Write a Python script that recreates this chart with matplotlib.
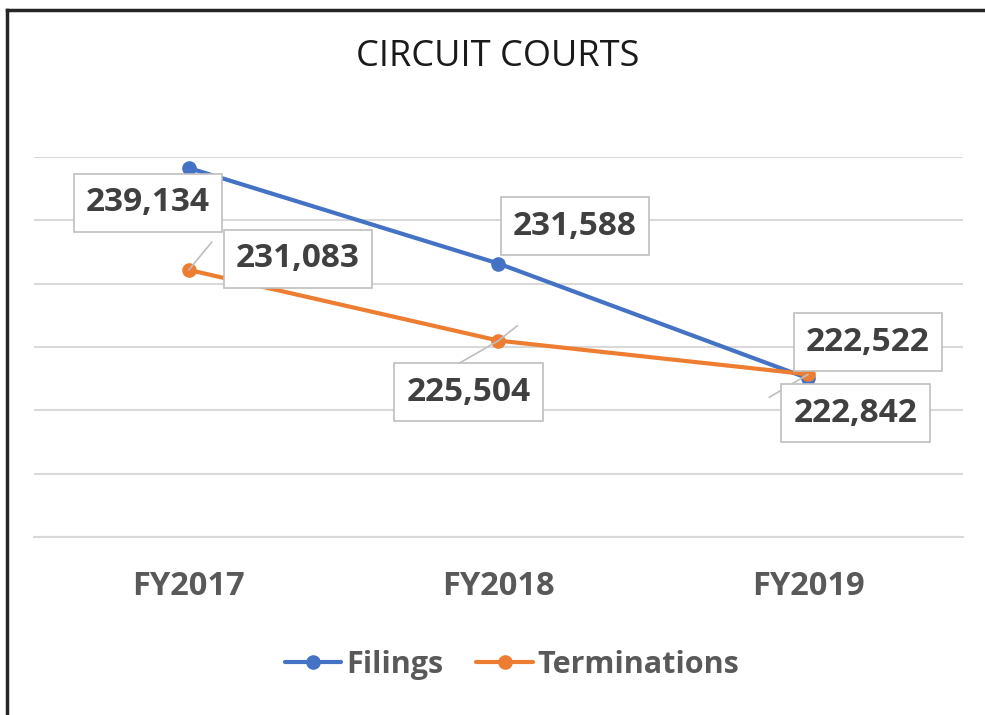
import matplotlib.pyplot as plt
from matplotlib.lines import Line2D

plt.rcParams['font.family'] = ['Open Sans', 'DejaVu Sans']

# data
years = ['FY2017', 'FY2018', 'FY2019']
filings = [239134, 231588, 222522]
terminations = [231083, 225504, 222842]

# label offsets (points) from each data point
filings_offsets = [(-29.5, -25), (55, 27), (43, 26)]
term_offsets = [(78.5, 8), (-21.5, -37), (34, -28)]
# leader line end offsets (points) from data point, per terminations label
term_leaders = [[(16.6, 20.2)], [(-28.8, -16.6), (13.7, 10.8)], [(-28.1, -16.6)]]

blue = '#4472C4'
orange = '#ED7D31'
grid_c = '#d9d9d9'

fig = plt.figure(figsize=(9.85, 7.15), dpi=100)
ax = fig.add_axes([34 / 985, 1 - 537 / 715, 929 / 985, 380 / 715])

x = list(range(len(years)))
ax.plot(x, filings, color=blue, lw=3, marker='o', ms=9.5, label='Filings', zorder=3,
        solid_capstyle='round')
ax.plot(x, terminations, color=orange, lw=3, marker='o', ms=9.5, label='Terminations', zorder=3,
        solid_capstyle='round')

ax.set_xlim(-0.5, 2.5)
ax.set_ylim(210000, 240000)
ax.set_yticks(range(210000, 240001, 5000))
ax.yaxis.grid(True, color=grid_c, lw=1.5)
ax.set_axisbelow(True)
for s in ['top', 'right', 'left']:
    ax.spines[s].set_visible(False)
ax.spines['bottom'].set_color(grid_c)
ax.spines['bottom'].set_linewidth(1.5)
ax.tick_params(axis='y', left=False, labelleft=False)
ax.set_xticks(x)
ax.set_xticklabels(years, fontsize=23.5, fontweight='bold', color='#595959')
ax.tick_params(axis='x', length=0, pad=24)

box = dict(boxstyle='square,pad=0.37', fc='white', ec='#bfbfbf', lw=1.2)


def add_label(xi, yi, off):
    ax.annotate(f'{yi:,}', xy=(xi, yi), xytext=off, textcoords='offset points',
                ha='center', va='center', fontsize=24, fontweight='bold',
                color='#404040', bbox=box, zorder=5)


for xi, yi, off in zip(x, filings, filings_offsets):
    add_label(xi, yi, off)
for xi, yi, off, leads in zip(x, terminations, term_offsets, term_leaders):
    for end in leads:
        ax.annotate('', xy=(xi, yi), xytext=end, textcoords='offset points',
                    arrowprops=dict(arrowstyle='-', color='#bfbfbf', lw=1.2,
                                    shrinkA=0, shrinkB=0), zorder=4)
    add_label(xi, yi, off)

fig.text(498 / 985, 1 - 57 / 715, 'CIRCUIT COURTS', ha='center', va='center',
         fontsize=26, color='#1a1a1a')

fig.legend(loc='center', bbox_to_anchor=(512 / 985, 1 - 665 / 715), ncol=2, frameon=False,
           prop={'size': 22, 'weight': 'bold'}, labelcolor='#595959',
           handlelength=1.85, handletextpad=0.15, columnspacing=1.1)

# chart frame
fig.add_artist(Line2D([7 / 985, 7 / 985], [0, 1 - 10 / 715], color='#262626', lw=2.5))
fig.add_artist(Line2D([7 / 985, 1], [1 - 10 / 715, 1 - 10 / 715], color='#262626', lw=2.5))

fig.savefig('out.png', dpi=100)
